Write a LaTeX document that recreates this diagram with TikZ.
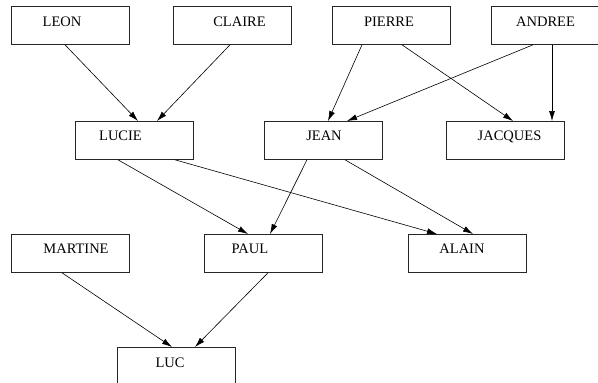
\documentclass[tikz,border=0pt]{standalone}
\usepackage{fontspec}
\setmainfont{Liberation Serif}
\usetikzlibrary{arrows.meta}
\begin{document}
\begin{tikzpicture}[x=1pt,y=-1pt,
  box/.style={draw=black!85,line width=0.8pt,rectangle,minimum width=118pt,minimum height=38pt,inner sep=0pt,anchor=north west},
  lbl/.style={anchor=base,inner sep=0pt,font=\fontsize{14.5}{17}\selectfont},
  arr/.style={draw=black,line width=0.6pt,-{Latex[length=10pt,width=6pt]}}]
\useasboundingbox (0,0) rectangle (598,383);
\clip (0,0) rectangle (598,383);
% boxes
\node[box] (leon) at (11,6) {};
\node[box] (claire) at (173,6) {};
\node[box] (pierre) at (332,6) {};
\node[box] (andree) at (491,6) {};
\node[box] (lucie) at (75,121) {};
\node[box] (jean) at (264,121) {};
\node[box] (jacques) at (446,121) {};
\node[box] (martine) at (11,234) {};
\node[box] (paul) at (204,234) {};
\node[box] (alain) at (408,234) {};
\node[box] (luc) at (117,347) {};
% labels
\node[lbl] (leonT) at (62,26) {LEON};
\node[lbl] (claireT) at (239.5,26) {CLAIRE};
\node[lbl] (pierreT) at (389,26) {PIERRE};
\node[lbl] (andreeT) at (545.5,26) {ANDREE};
\node[lbl] (lucieT) at (120.5,140) {LUCIE};
\node[lbl] (jeanT) at (324,140) {JEAN};
\node[lbl] (jacquesT) at (509.5,140) {JACQUES};
\node[lbl] (martineT) at (76,253) {MARTINE};
\node[lbl] (paulT) at (250,253) {PAUL};
\node[lbl] (alainT) at (462,253) {ALAIN};
\node[lbl] (lucT) at (170,367) {LUC};
% edges
\draw[arr] ([xshift=54pt]leon.south west) -- ([xshift=63pt]lucie.north west);
\draw[arr] ([xshift=57pt]claire.south west) -- ([xshift=82pt]lucie.north west);
\draw[arr] ([xshift=30pt]pierre.south west) -- ([xshift=64pt]jean.north west);
\draw[arr] ([xshift=70pt]pierre.south west) -- ([xshift=67pt]jacques.north west);
\draw[arr] ([xshift=42pt]andree.south west) -- ([xshift=83pt]jean.north west);
\draw[arr] ([xshift=61pt]andree.south west) -- ([xshift=106pt]jacques.north west);
\draw[arr] ([xshift=43pt]lucie.south west) -- ([xshift=44pt]paul.north west);
\draw[arr] ([xshift=43pt]jean.south west) -- ([xshift=66pt]paul.north west);
\draw[arr] ([xshift=100pt]lucie.south west) -- ([xshift=29pt]alain.north west);
\draw[arr] ([xshift=81pt]jean.south west) -- ([xshift=65pt]alain.north west);
\draw[arr] ([xshift=51pt]martine.south west) -- ([xshift=55pt]luc.north west);
\draw[arr] ([xshift=64pt]paul.south west) -- ([xshift=78pt]luc.north west);
\end{tikzpicture}
\end{document}
